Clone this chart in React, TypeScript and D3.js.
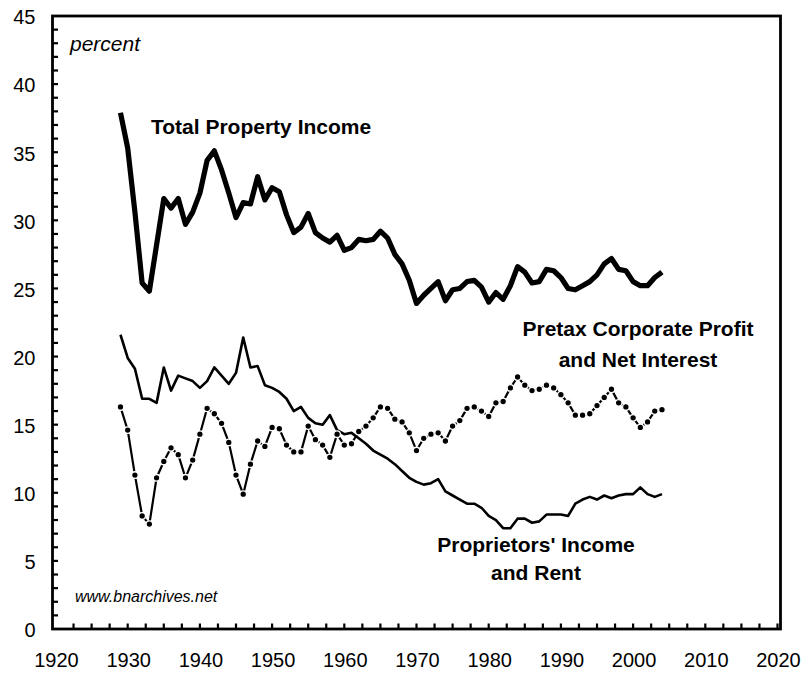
import React from 'react'
import * as d3 from 'd3'

// years 1929..2004, one value per year
const firstYear = 1929
const totalProperty = [
    37.9, 35.3, 30.6, 25.4, 24.8, 28.2, 31.6, 30.9, 31.6, 29.7, 30.6,
    32.0, 34.4, 35.1, 33.7, 32.0, 30.2, 31.3, 31.2, 33.2, 31.5,
    32.4, 32.1, 30.4, 29.1, 29.5, 30.5, 29.1, 28.7, 28.4, 28.9,
    27.8, 28.0, 28.6, 28.5, 28.6, 29.2, 28.7, 27.5, 26.8, 25.6,
    23.9, 24.5, 25.0, 25.5, 24.1, 24.9, 25.0, 25.5, 25.6, 25.1,
    24.0, 24.7, 24.2, 25.2, 26.6, 26.2, 25.4, 25.5, 26.4, 26.3,
    25.8, 25.0, 24.9, 25.2, 25.5, 26.0, 26.8, 27.2, 26.4, 26.3,
    25.5, 25.2, 25.2, 25.8, 26.2
]
const corporateProfit = [
    16.3, 14.6, 11.3, 8.3, 7.7, 11.1, 12.3, 13.3, 12.8, 11.1, 12.4,
    14.3, 16.2, 15.8, 15.1, 13.7, 11.3, 9.9, 12.1, 13.8, 13.4,
    14.8, 14.7, 13.5, 13.0, 13.0, 14.9, 13.9, 13.5, 12.6, 14.3,
    13.5, 13.6, 14.5, 14.9, 15.5, 16.3, 16.2, 15.4, 15.2, 14.4,
    13.1, 14.0, 14.3, 14.4, 13.8, 14.9, 15.3, 16.2, 16.3, 16.0,
    15.6, 16.6, 16.7, 17.7, 18.5, 17.9, 17.5, 17.6, 17.9, 17.7,
    17.2, 16.6, 15.7, 15.7, 15.8, 16.4, 17.0, 17.6, 16.6, 16.3,
    15.5, 14.8, 15.2, 16.0, 16.1
]
const proprietors = [
    21.6, 19.9, 19.1, 16.9, 16.9, 16.6, 19.2, 17.5, 18.6, 18.4, 18.2,
    17.7, 18.2, 19.2, 18.6, 18.0, 18.8, 21.4, 19.2, 19.3, 17.9,
    17.7, 17.4, 16.9, 16.0, 16.3, 15.5, 15.1, 15.0, 15.7, 14.6,
    14.3, 14.4, 14.0, 13.6, 13.1, 12.8, 12.5, 12.1, 11.6, 11.1,
    10.8, 10.6, 10.7, 11.0, 10.1, 9.8, 9.5, 9.2, 9.2, 8.9,
    8.3, 8.0, 7.4, 7.4, 8.1, 8.1, 7.8, 7.9, 8.4, 8.4,
    8.4, 8.3, 9.2, 9.5, 9.7, 9.5, 9.8, 9.6, 9.8, 9.9,
    9.9, 10.4, 9.9, 9.7, 9.9
]
const xTickLabels = [1920, 1930, 1940, 1950, 1960, 1970, 1980, 1990, 2000, 2010, 2020]
const yTickLabels = [0, 5, 10, 15, 20, 25, 30, 35, 40, 45]

const FONT = '"Liberation Sans", Arial, sans-serif'

const App = () => {
    const W = 804, H = 673
    const frame = { left: 52.5, right: 780.5, top: 16, bottom: 629 }

    const x = d3.scaleLinear().domain([1920, 2020]).range([55.5, 777.5])
    const y = d3.scaleLinear().domain([0, 45]).range([frame.bottom, frame.top])

    const years = totalProperty.map((d, i) => firstYear + i)
    const line = d3.line<number>()
        .x((d, i) => x(years[i]))
        .y(d => y(d))

    const xMinor = d3.range(1922.5, 2020.1, 2.5)
    const yMinor = d3.range(1, 45, 1)

    return (
        <svg width={W} height={H} style={{ position: 'absolute', left: 0, top: 0, background: '#fff' }}
            fontFamily={FONT}>
            {/* frame and ticks */}
            <rect x={frame.left} y={frame.top} width={frame.right - frame.left} height={frame.bottom - frame.top}
                fill="none" stroke="#000" strokeWidth={2.8} />
            {xMinor.map(t => (
                <line key={'xt' + t} x1={x(t)} x2={x(t)} y1={frame.bottom} y2={frame.bottom - 5.5}
                    stroke="#000" strokeWidth={2.2} />
            ))}
            {yMinor.map(t => (
                <line key={'yt' + t} x1={frame.left} x2={frame.left + 5.5} y1={y(t)} y2={y(t)}
                    stroke="#000" strokeWidth={2.2} />
            ))}
            {xTickLabels.map(t => (
                <text key={'xl' + t} x={x(t) + 1} y={666.5} textAnchor="middle" fontSize={20}>{t}</text>
            ))}
            {yTickLabels.map(t => (
                <text key={'yl' + t} x={35.5} y={y(t) + 8.3} textAnchor="end" fontSize={20}>{t}</text>
            ))}

            {/* series */}
            <path d={line(proprietors) ?? ''} fill="none" stroke="#000" strokeWidth={2.6} strokeLinejoin="round" />
            <path d={line(corporateProfit) ?? ''} fill="none" stroke="#000" strokeWidth={2.2} strokeLinejoin="round" />
            {corporateProfit.map((d, i) => (
                <circle key={'c' + i} cx={x(years[i])} cy={y(d)} r={3.3} fill="#000" stroke="#fff" strokeWidth={1.3} />
            ))}
            <path d={line(totalProperty) ?? ''} fill="none" stroke="#000" strokeWidth={5.2} strokeLinejoin="round" />

            {/* labels */}
            <text x={70} y={51} fontSize={21} fontStyle="italic">percent</text>
            <text x={151} y={133.5} fontSize={21} fontWeight="bold">Total Property Income</text>
            <text x={638} y={336} fontSize={21} fontWeight="bold" textAnchor="middle">Pretax Corporate Profit</text>
            <text x={638} y={366.5} fontSize={21} fontWeight="bold" textAnchor="middle">and Net Interest</text>
            <text x={536} y={552} fontSize={21} fontWeight="bold" textAnchor="middle">Proprietors' Income</text>
            <text x={536} y={579.5} fontSize={21} fontWeight="bold" textAnchor="middle">and Rent</text>
            <text x={75} y={601.5} fontSize={16} fontStyle="italic">www.bnarchives.net</text>
        </svg>
    )
}

export default App
